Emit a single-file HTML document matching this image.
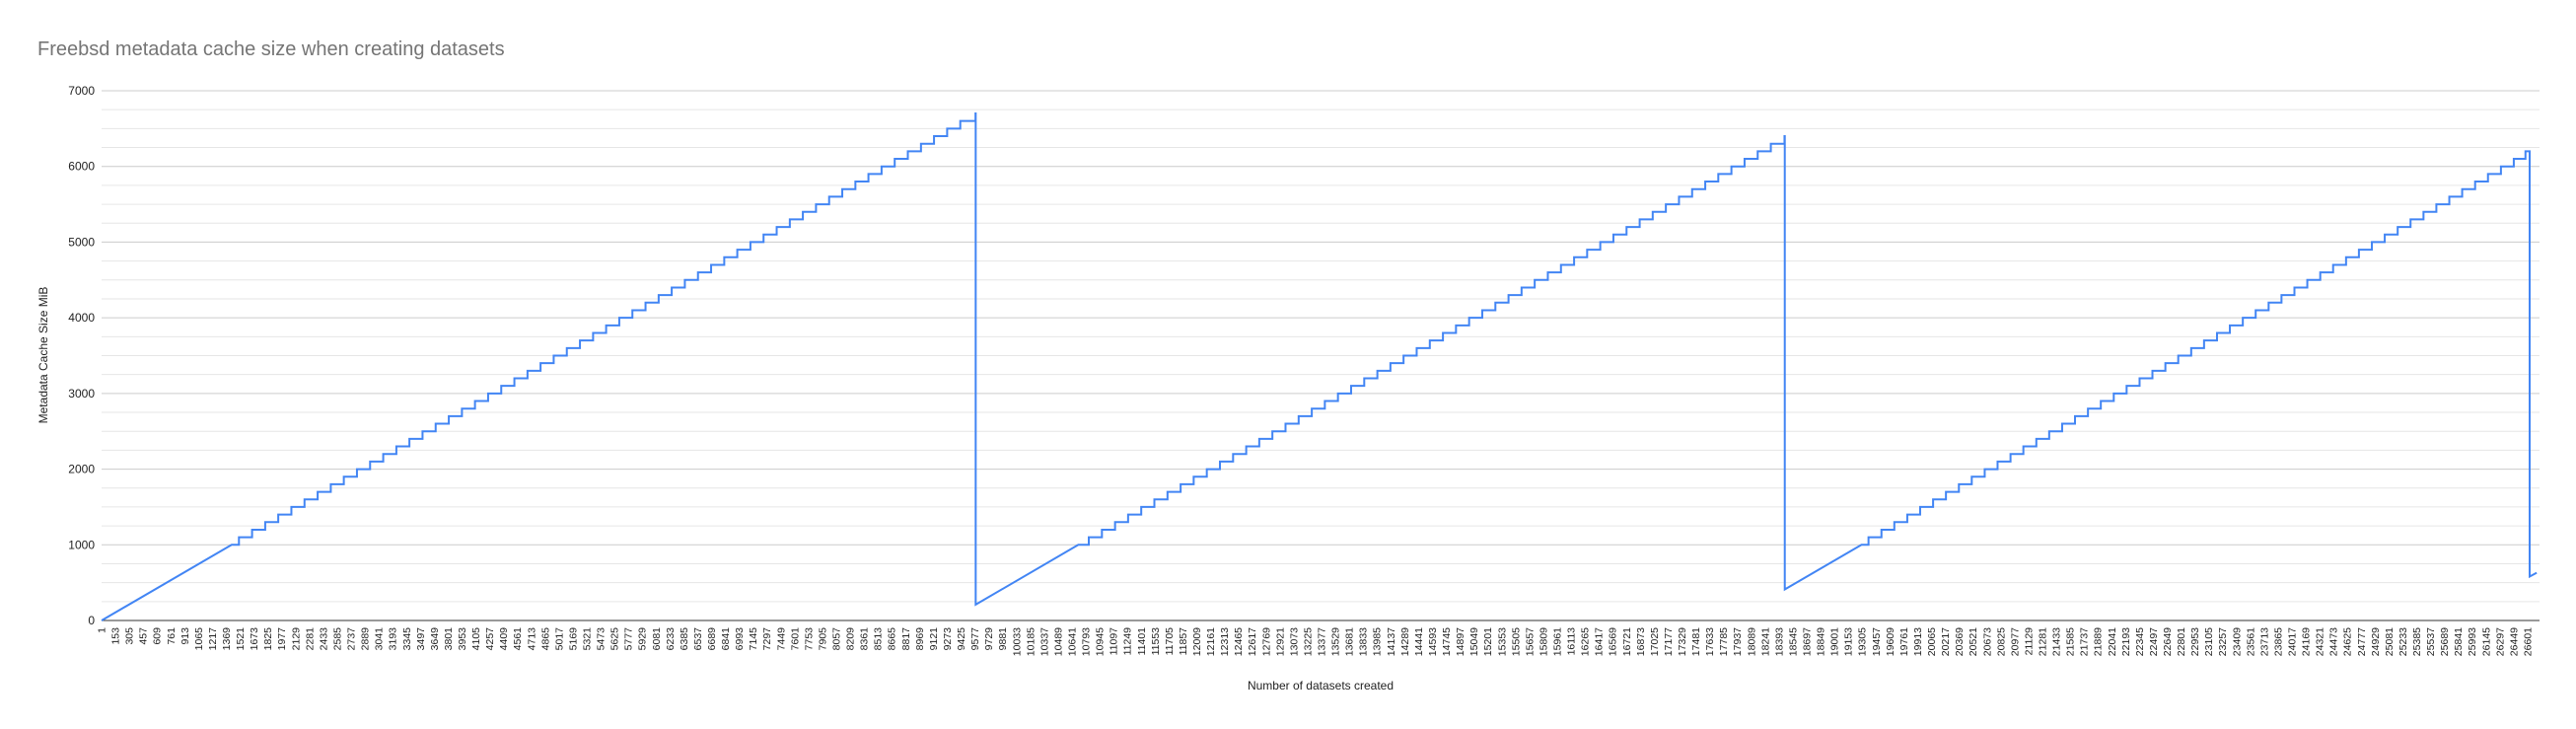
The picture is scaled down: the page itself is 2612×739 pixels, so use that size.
<!DOCTYPE html>
<html><head><meta charset="utf-8">
<style>
html,body{margin:0;padding:0;background:#fff;}
svg{display:block;font-family:"Liberation Sans",Arial,sans-serif;}
</style></head>
<body>
<svg id="chart" width="2612" height="739" viewBox="0 0 2612 739" xmlns="http://www.w3.org/2000/svg">
<rect width="2612" height="739" fill="#fff"/>
<text x="38" y="56" font-size="20" fill="#757575">Freebsd metadata cache size when creating datasets</text>
<g id="grid"></g>
<g id="yticks"></g>
<g id="xticks"></g>
<line x1="103" y1="629" x2="2575" y2="629" stroke="#333" stroke-width="1"/>
<path id="series" fill="none" stroke="#4285f4" stroke-width="2" stroke-linejoin="miter"/>
<text transform="translate(48,360) rotate(-90)" text-anchor="middle" font-size="12" fill="#222">Metadata Cache Size MiB</text>
<text x="1339" y="699" text-anchor="middle" font-size="12" fill="#222">Number of datasets created</text>
</svg>
<script>
const yTicks = [0,1000,2000,3000,4000,5000,6000,7000];
const xTickFirst = 1, xTickStep = 152, xTickLast = 26601;
const rampStartD = [1, 9585, 18456];
const rampStartV = [0, 210, 410];
const rampEndD = [1427, 10710, 19297];
const rampEndV = [1000, 1000, 1000];
const c1D = [1507,1651,1795,1938,2082,2226,2370,2514,2657,2801,2945,3089,3233,3376,3520,3664,3808,3952,4095,4239,4383,4527,4671,4814,4958,5102,5246,5390,5533,5677,5821,5965,6109,6252,6396,6540,6684,6828,6971,7115,7259,7403,7547,7690,7834,7978,8122,8266,8409,8553,8697,8841,8985,9128,9272,9416];
const c1V = [1100,1200,1300,1400,1500,1600,1700,1800,1900,2000,2100,2200,2300,2400,2500,2600,2700,2800,2900,3000,3100,3200,3300,3400,3500,3600,3700,3800,3900,4000,4100,4200,4300,4400,4500,4600,4700,4800,4900,5000,5100,5200,5300,5400,5500,5600,5700,5800,5900,6000,6100,6200,6300,6400,6500,6600];
const c2D = [10825,10969,11113,11256,11400,11544,11688,11832,11975,12119,12263,12407,12551,12694,12838,12982,13126,13270,13413,13557,13701,13845,13989,14132,14276,14420,14564,14708,14851,14995,15139,15283,15427,15570,15714,15858,16002,16146,16289,16433,16577,16721,16865,17008,17152,17296,17440,17584,17727,17871,18015,18159,18303];
const c2V = [1100,1200,1300,1400,1500,1600,1700,1800,1900,2000,2100,2200,2300,2400,2500,2600,2700,2800,2900,3000,3100,3200,3300,3400,3500,3600,3700,3800,3900,4000,4100,4200,4300,4400,4500,4600,4700,4800,4900,5000,5100,5200,5300,5400,5500,5600,5700,5800,5900,6000,6100,6200,6300];
const c3D = [19374,19516,19657,19799,19940,20082,20223,20365,20506,20648,20789,20931,21072,21214,21355,21497,21638,21780,21921,22063,22204,22346,22487,22629,22770,22912,23053,23195,23336,23478,23619,23761,23902,24044,24185,24327,24468,24610,24751,24893,25034,25176,25317,25459,25600,25742,25883,26025,26166,26308,26449];
const c3V = [1100,1200,1300,1400,1500,1600,1700,1800,1900,2000,2100,2200,2300,2400,2500,2600,2700,2800,2900,3000,3100,3200,3300,3400,3500,3600,3700,3800,3900,4000,4100,4200,4300,4400,4500,4600,4700,4800,4900,5000,5100,5200,5300,5400,5500,5600,5700,5800,5900,6000,6100];
const peakD = [9583, 18453, 26577];
const peakV = [6700, 6400, 6200];
const dropD = [9585, 18456, 26623];
const dropV = [210, 410, 580];
const endD = [26700];
const endV = [630];

const NS = "http://www.w3.org/2000/svg";
const X0 = 103, X1 = 2575, D0 = 1, D1 = 26731;
const Y0 = 629, Y1 = 92, V0 = 0, V1 = 7000;
function xs(d){ return X0 + (d - D0) * (X1 - X0) / (D1 - D0); }
function ys(v){ return Y0 - (v - V0) * (Y0 - Y1) / (V1 - V0); }

const grid = document.getElementById('grid');
for (let v = 250; v <= 7000; v += 250) {
  const l = document.createElementNS(NS, 'line');
  l.setAttribute('x1', X0); l.setAttribute('x2', X1);
  l.setAttribute('y1', ys(v)); l.setAttribute('y2', ys(v));
  const major = v % 1000 === 0;
  l.setAttribute('stroke', major ? '#cccccc' : '#e6e6e6');
  l.setAttribute('stroke-width', '1');
  
  
  grid.appendChild(l);
}
const yt = document.getElementById('yticks');
yTicks.forEach(v => {
  const t = document.createElementNS(NS, 'text');
  t.setAttribute('x', 96); t.setAttribute('y', ys(v) + 4);
  t.setAttribute('text-anchor', 'end'); t.setAttribute('font-size', '12'); t.setAttribute('fill', '#222');
  t.textContent = v;
  
  
  yt.appendChild(t);
});
const xt = document.getElementById('xticks');
for (let d = xTickFirst; d <= xTickLast; d += xTickStep) {
  const t = document.createElementNS(NS, 'text');
  const x = xs(d) + 3.5;
  t.setAttribute('transform', 'translate(' + x + ',636) rotate(-90)');
  t.setAttribute('text-anchor', 'end'); t.setAttribute('font-size', '10.5'); t.setAttribute('fill', '#222');
  t.textContent = d;
  
  
  xt.appendChild(t);
}

const stepsD = [c1D, c2D, c3D], stepsV = [c1V, c2V, c3V];
let p = '';
for (let c = 0; c < 3; c++) {
  p += (c === 0 ? 'M' : 'L') + xs(rampStartD[c]) + ',' + ys(rampStartV[c]);
  p += 'L' + xs(rampEndD[c]) + ',' + ys(rampEndV[c]);
  let cur = rampEndV[c];
  const sd = stepsD[c], sv = stepsV[c];
  for (let i = 0; i < sd.length; i++) {
    p += 'L' + xs(sd[i]) + ',' + ys(cur);
    cur = sv[i];
    p += 'L' + xs(sd[i]) + ',' + ys(cur);
  }
  p += 'L' + xs(peakD[c]) + ',' + ys(cur);
  p += 'L' + xs(peakD[c]) + ',' + ys(peakV[c]);
  p += 'L' + xs(dropD[c]) + ',' + ys(peakV[c]);
  p += 'L' + xs(dropD[c]) + ',' + ys(dropV[c]);
}
p += 'L' + xs(endD[0]) + ',' + ys(endV[0]);
document.getElementById('series').setAttribute('d', p);
</script>
</body></html>
